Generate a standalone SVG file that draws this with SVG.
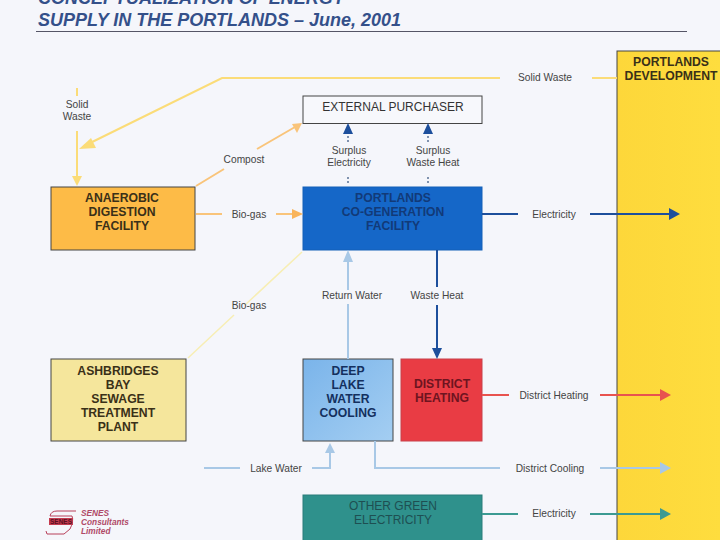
<svg xmlns="http://www.w3.org/2000/svg" width="720" height="540" viewBox="0 0 720 540">
<defs>
<linearGradient id="gy" x1="0" y1="0" x2="1" y2="0"><stop offset="0" stop-color="#fdd73a"/><stop offset="1" stop-color="#fedd3e"/></linearGradient>
<linearGradient id="gb" x1="0" y1="0" x2="1" y2="1"><stop offset="0" stop-color="#7ab4ea"/><stop offset="1" stop-color="#a4cef2"/></linearGradient>
</defs>
<style>
text{font-family:"Liberation Sans",Arial,sans-serif}
.lb{font-size:10.2px;fill:#444;text-anchor:middle}
.nd{font-size:12.2px;font-weight:bold;text-anchor:middle;fill:#3a3018}
.ln{fill:none;stroke-width:2}
.y{stroke:#fbdc78}.o{stroke:#f9c47a}.b{stroke:#1d4f9c}.lt{stroke:#a8c8e6}.r{stroke:#e8534f}.t{stroke:#3c9a92}
.box{stroke:#444;stroke-width:1}
</style>
<rect width="720" height="540" fill="#f5f6fb"/>
<g id="title" font-size="18" font-weight="bold" font-style="italic" fill="#34508a">
<text x="38" y="4">CONCEPTUALIZATION OF ENERGY</text>
<text x="38" y="26">SUPPLY IN THE PORTLANDS – June, 2001</text>
</g>
<line x1="36" y1="31.500" x2="687" y2="31.500" stroke="#556" stroke-width="1"/>
<g id="portlands-development">
<rect x="617" y="51" width="104" height="490" fill="url(#gy)" class="box"/>
<text class="nd" x="671" y="66">PORTLANDS</text>
<text class="nd" x="671" y="80">DEVELOPMENT</text>
</g>
<g id="external-purchaser">
<rect x="303" y="96" width="179" height="27.500" fill="#f7f8fc" class="box"/>
<text x="393" y="111" font-size="12" text-anchor="middle" fill="#333">EXTERNAL PURCHASER</text>
</g>
<g id="anaerobic">
<rect x="51" y="187" width="144" height="63" fill="#fdbb47" class="box"/>
<text class="nd" x="122" y="202">ANAEROBIC</text>
<text class="nd" x="122" y="216">DIGESTION</text>
<text class="nd" x="122" y="230">FACILITY</text>
</g>
<g id="cogeneration">
<rect x="303" y="187" width="179" height="63" fill="#1567c8" stroke="#1460b8"/>
<text class="nd" x="393" y="202" style="fill:#123a78">PORTLANDS</text>
<text class="nd" x="393" y="216" style="fill:#123a78">CO-GENERATION</text>
<text class="nd" x="393" y="230" style="fill:#123a78">FACILITY</text>
</g>
<g id="ashbridges">
<rect x="51" y="359" width="135" height="82" fill="#f5e69c" class="box"/>
<text class="nd" x="118" y="375">ASHBRIDGES</text>
<text class="nd" x="118" y="389">BAY</text>
<text class="nd" x="118" y="403">SEWAGE</text>
<text class="nd" x="118" y="417">TREATMENT</text>
<text class="nd" x="118" y="431">PLANT</text>
</g>
<g id="deep-lake">
<rect x="303" y="359" width="90" height="82" fill="url(#gb)" class="box"/>
<text class="nd" x="348" y="375" style="fill:#14305e">DEEP</text>
<text class="nd" x="348" y="389" style="fill:#14305e">LAKE</text>
<text class="nd" x="348" y="403" style="fill:#14305e">WATER</text>
<text class="nd" x="348" y="417" style="fill:#14305e">COOLING</text>
</g>
<g id="district-heating">
<rect x="401" y="359" width="81" height="82" fill="#e93c44" stroke="#c8404a"/>
<text class="nd" x="442" y="388" style="fill:#6e1420">DISTRICT</text>
<text class="nd" x="442" y="402" style="fill:#6e1420">HEATING</text>
</g>
<g id="other-green">
<rect x="303" y="495" width="179" height="46" fill="#2f918c" stroke="#2a7c7a"/>
<text x="393" y="510" font-size="12" text-anchor="middle" fill="#1e4f52">OTHER GREEN</text>
<text x="393" y="524" font-size="12" text-anchor="middle" fill="#1e4f52">ELECTRICITY</text>
</g>
<g id="connectors">
<path class="ln y" d="M617 78H592M500 78H222L84 146"/>
<path d="M79 149L91 138L96 148Z" fill="#fbdc78"/>
<path class="ln y" d="M77 88V96M77 131V178"/>
<path d="M72 176H82L77 186Z" fill="#fbdc78"/>
<path class="ln o" d="M196 186L224 169M257 149L295 127"/>
<path d="M302 123L292 124L297 133Z" fill="#f9c47a"/>
<path class="ln o" d="M196 214H222M276 214H294"/>
<path d="M303 214L292 209V219Z" fill="#f9b45a"/>
<path d="M188 358L234 315M245 305L302 252" fill="none" stroke="#f7eeb4" stroke-width="1.500"/>
<path d="M348 359V304M348 290V258" class="ln lt"/>
<path d="M348 250L343 262H353Z" fill="#a8c8e6"/>
<path d="M437 250V287M437 305V348" class="ln b"/>
<path d="M437 359L432 348H442Z" fill="#1d4f9c"/>
<path d="M348 123L343 134H353Z" fill="#1d4f9c"/>
<path d="M428 123L423 134H433Z" fill="#1d4f9c"/>
<path d="M348 136V142M348 177V184M428 136V142M428 177V184" fill="none" stroke="#33507c" stroke-width="1.200" stroke-dasharray="2 2"/>
<path class="ln b" d="M482 214H518M590 214H672"/>
<path d="M680 214L669 208V220Z" fill="#1d4f9c"/>
<path class="ln r" d="M482 395H509M600 395H662"/>
<path d="M671 395L660 389V401Z" fill="#e8534f"/>
<path class="ln lt" d="M375 441V468H500M600 468H662"/>
<path d="M671 468L660 462V474Z" fill="#a8c8e6"/>
<path class="ln t" d="M482 514H518M590 514H662"/>
<path d="M671 514L660 508V520Z" fill="#3c9a92"/>
<path class="ln lt" d="M204 468H240M312 468H330V450"/>
<path d="M330 443L325 453H335Z" fill="#a8c8e6"/>
</g>
<g id="labels">
<text class="lb" x="545" y="81">Solid Waste</text>
<text class="lb" x="77" y="108">Solid</text>
<text class="lb" x="77" y="120">Waste</text>
<text class="lb" x="244" y="163">Compost</text>
<text class="lb" x="349" y="154">Surplus</text>
<text class="lb" x="349" y="166">Electricity</text>
<text class="lb" x="433" y="154">Surplus</text>
<text class="lb" x="433" y="166">Waste Heat</text>
<text class="lb" x="249" y="218">Bio-gas</text>
<text class="lb" x="554" y="218">Electricity</text>
<text class="lb" x="249" y="309">Bio-gas</text>
<text class="lb" x="352" y="299">Return Water</text>
<text class="lb" x="437" y="299">Waste Heat</text>
<text class="lb" x="554" y="399">District Heating</text>
<text class="lb" x="276" y="472">Lake Water</text>
<text class="lb" x="550" y="472">District Cooling</text>
<text class="lb" x="554" y="517">Electricity</text>
</g>
<g id="senes-logo">
<path d="M76 511H57Q51 511 50 516H72Q74 521 70 529L64 534H47L46 531" fill="none" stroke="#b8405a" stroke-width="1"/>
<rect x="49" y="518" width="24" height="7" fill="#c53b50"/>
<text x="61" y="524" font-size="6.500" font-weight="bold" text-anchor="middle" fill="#5a1020">SENES</text>
<g font-size="8.300" font-weight="bold" font-style="italic" fill="#b04a68">
<text x="81" y="516">SENES</text>
<text x="81" y="525">Consultants</text>
<text x="81" y="534">Limited</text>
</g>
</g>
</svg>
